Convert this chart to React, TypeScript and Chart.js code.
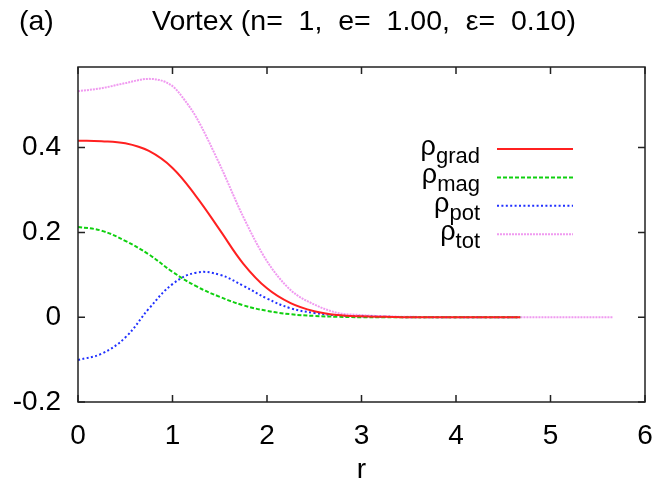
import React, { useEffect, useRef } from 'react';
import { Chart, registerables } from 'chart.js';

Chart.register(...registerables);

const PANEL_LABEL = '(a)';
const TITLE = 'Vortex (n=  1,  e=  1.00,  \u03b5=  0.10)';
const X_LABEL = 'r';
const X_TICKS = [0, 1, 2, 3, 4, 5, 6];
const Y_TICKS = [-0.2, 0, 0.2, 0.4];

const rGrid = [0, 0.25, 0.5, 0.75, 1, 1.25, 1.5, 1.75, 2, 2.25, 2.5, 2.75, 3, 3.25, 3.5, 4, 4.5, 4.68];
const rhoGrad = [0.416, 0.415, 0.41, 0.392, 0.352, 0.285, 0.206, 0.126, 0.068, 0.033, 0.014, 0.005, 0.002, 0.001, 0, 0, 0, 0];
const rhoMag = [0.213, 0.204, 0.18, 0.148, 0.107, 0.073, 0.048, 0.028, 0.015, 0.007, 0.003, 0.001, 0, 0, 0, 0, 0, 0];
const rhoPot = [-0.101, -0.086, -0.048, 0.02, 0.078, 0.105, 0.1, 0.074, 0.044, 0.021, 0.01, 0.004, 0.002, 0.001, 0, 0, 0, 0];

const rTotGrid = [0, 0.25, 0.5, 0.75, 1, 1.125, 1.25, 1.5, 1.75, 2, 2.25, 2.5, 2.75, 3, 3.25, 3.5, 4, 4.5, 5, 5.66];
const rhoTot = [0.533, 0.54, 0.552, 0.562, 0.545, 0.513, 0.472, 0.36, 0.236, 0.132, 0.064, 0.03, 0.01, 0.005, 0.002, 0.001, 0, 0, 0, 0];

const SERIES_SUBS = ['grad', 'mag', 'pot', 'tot'];
const SERIES_COLORS = ['#ff2020', '#10d010', '#2030ff', '#f09af0'];
const SERIES_DASHES: number[][] = [[], [4, 2], [2, 2.4], [2, 1]];

const FONT = "'Liberation Sans', Arial, Helvetica, sans-serif";
const FS = 28;
const TITLE_FS = 28.5;

const toPoints = (xs: number[], ys: number[]) => xs.map((x, i) => ({ x, y: ys[i] }));

const framePlugin = {
  id: 'gnuframe',
  afterDatasetsDraw(chart: any) {
    const { ctx, chartArea: a, scales } = chart;
    const sx = scales.x;
    const sy = scales.y;
    ctx.save();
    ctx.strokeStyle = '#222';
    ctx.lineWidth = 1.5;
    ctx.strokeRect(a.left, a.top, a.right - a.left, a.bottom - a.top);
    const tl = 7;
    ctx.beginPath();
    X_TICKS.forEach((v) => {
      const px = sx.getPixelForValue(v);
      ctx.moveTo(px, a.bottom);
      ctx.lineTo(px, a.bottom - tl);
      ctx.moveTo(px, a.top);
      ctx.lineTo(px, a.top + tl);
    });
    Y_TICKS.forEach((v) => {
      const py = sy.getPixelForValue(v);
      ctx.moveTo(a.left, py);
      ctx.lineTo(a.left + tl, py);
      ctx.moveTo(a.right, py);
      ctx.lineTo(a.right - tl, py);
    });
    ctx.stroke();

    ctx.fillStyle = '#000';
    ctx.textBaseline = 'middle';
    ctx.font = `${TITLE_FS}px ${FONT}`;
    ctx.textAlign = 'left';
    ctx.fillText(PANEL_LABEL, 19, 22);
    ctx.textAlign = 'center';
    ctx.fillText(TITLE, 364, 22);

    const textRight = 480;
    const lineX0 = 497;
    const lineX1 = 573;
    const rowY0 = 149;
    const rowH = 28.4;
    chart.data.datasets.forEach((ds: any, i: number) => {
      const y = rowY0 + i * rowH;
      const sub = ds.sub as string;
      ctx.textBaseline = 'alphabetic';
      ctx.textAlign = 'right';
      ctx.font = `22px ${FONT}`;
      const subW = ctx.measureText(sub).width;
      ctx.fillText(sub, textRight, y + 14);
      ctx.font = `27px ${FONT}`;
      ctx.fillText('\u03c1', textRight - subW, y + 6);
      ctx.strokeStyle = ds.borderColor;
      ctx.lineWidth = 2;
      ctx.setLineDash(ds.borderDash || []);
      ctx.beginPath();
      ctx.moveTo(lineX0, y);
      ctx.lineTo(lineX1, y);
      ctx.stroke();
      ctx.setLineDash([]);
    });
    ctx.restore();
  },
};

export default function App() {
  const ref = useRef<HTMLCanvasElement | null>(null);

  useEffect(() => {
    if (!ref.current) return;
    const xsList = [rGrid, rGrid, rGrid, rTotGrid];
    const ysList = [rhoGrad, rhoMag, rhoPot, rhoTot];
    const datasets = SERIES_SUBS.map((sub, i) => ({
      label: '\u03c1' + sub,
      sub,
      data: toPoints(xsList[i], ysList[i]),
      borderColor: SERIES_COLORS[i],
      backgroundColor: SERIES_COLORS[i],
      borderDash: SERIES_DASHES[i],
      borderWidth: 2,
      pointRadius: 0,
      tension: 0.4,
      cubicInterpolationMode: (sub === 'tot' ? 'monotone' : 'default') as any,
      fill: false,
    }));
    const chart = new Chart(ref.current, {
      type: 'line',
      data: { datasets: datasets as any },
      options: {
        animation: false,
        responsive: false,
        devicePixelRatio: 1,
        layout: { padding: { top: 67, right: 15, left: 0, bottom: 0 } },
        plugins: {
          legend: { display: false },
          title: { display: false },
          tooltip: { enabled: false },
        },
        scales: {
          x: {
            type: 'linear',
            min: 0,
            max: 6,
            grid: { display: false, drawTicks: false },
            border: { display: false },
            afterBuildTicks: (s: any) => {
              s.ticks = X_TICKS.map((v) => ({ value: v }));
            },
            afterFit: (s: any) => {
              s.height = 82;
              s.paddingLeft = 0;
              s.paddingRight = 0;
            },
            ticks: {
              padding: 17,
              color: '#000',
              font: { family: FONT, size: FS },
              maxRotation: 0,
              callback: (v: any) => String(v),
            },
            title: {
              display: true,
              text: X_LABEL,
              color: '#000',
              font: { family: FONT, size: FS },
              padding: { top: 0, bottom: -3 },
            },
          },
          y: {
            type: 'linear',
            min: -0.2,
            max: 0.59,
            grid: { display: false, drawTicks: false },
            border: { display: false },
            afterBuildTicks: (s: any) => {
              s.ticks = Y_TICKS.map((v) => ({ value: v }));
            },
            afterFit: (s: any) => {
              s.width = 78;
              s.paddingTop = 0;
              s.paddingBottom = 0;
            },
            ticks: {
              padding: 17,
              color: '#000',
              font: { family: FONT, size: FS },
              callback: (v: any) => (Math.abs(v) < 1e-9 ? '0' : Number(v).toFixed(1)),
            },
          },
        },
      },
      plugins: [framePlugin],
    });
    return () => chart.destroy();
  }, []);

  return (
    <div style={{ position: 'fixed', left: 0, top: 0, width: 660, height: 484, background: '#fff' }}>
      <canvas ref={ref} width={660} height={484} />
    </div>
  );
}
